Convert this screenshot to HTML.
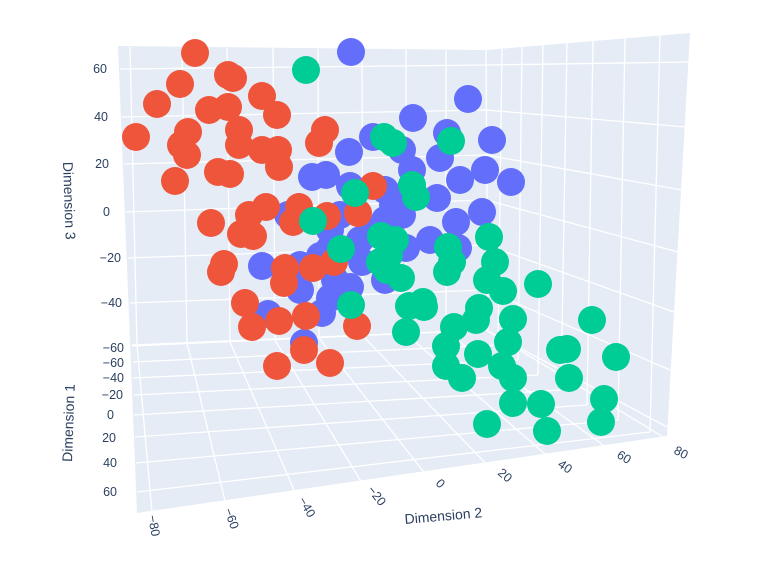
<!DOCTYPE html><html><head><meta charset="utf-8"><style>body{margin:0;background:#fff}svg text{font-family:"Liberation Sans",sans-serif;fill:#2a3f5f;font-size:12.5px}svg text.t{font-size:14px}</style></head><body>
<svg width="767" height="570" xmlns="http://www.w3.org/2000/svg">
<polygon points="118,46 486,50 690,33 667,436 137,513" fill="#E5ECF6"/>
<g stroke="#fff" stroke-width="1.3" fill="none">
<polyline points="120,69 486,65 690,62"/><polyline points="122,117 486,110 686,127"/><polyline points="124,164 486,155 682,190"/><polyline points="126,212 486,200 678,252"/><polyline points="128,258 486,245 674,312"/><polyline points="130,303 486,290 670,370"/><polyline points="132,345 486,330 667,427"/>
<line x1="130" y1="47" x2="137" y2="345"/><line x1="182" y1="47" x2="187" y2="343"/><line x1="227" y1="48" x2="230" y2="342"/><line x1="273" y1="48" x2="275" y2="340"/><line x1="318" y1="49" x2="319" y2="338"/><line x1="362" y1="49" x2="363" y2="336"/><line x1="406" y1="49" x2="406" y2="334"/><line x1="446" y1="50" x2="446" y2="332"/><line x1="486" y1="50" x2="488" y2="330"/>
<line x1="502" y1="49" x2="498" y2="345"/><line x1="522" y1="47" x2="518" y2="360"/><line x1="543" y1="45" x2="538" y2="375"/><line x1="567" y1="43" x2="561" y2="390"/><line x1="593" y1="41" x2="587" y2="405"/><line x1="625" y1="38" x2="618" y2="420"/><line x1="660" y1="35" x2="650" y2="432"/>
<line x1="132" y1="346" x2="486" y2="330"/><line x1="133" y1="362" x2="498" y2="345"/><line x1="133" y1="378" x2="518" y2="360"/><line x1="134" y1="395" x2="538" y2="375"/><line x1="134" y1="415" x2="561" y2="390"/><line x1="135" y1="437" x2="587" y2="405"/><line x1="136" y1="463" x2="618" y2="420"/><line x1="137" y1="492" x2="650" y2="432"/>
<line x1="137" y1="345" x2="152" y2="512"/><line x1="187" y1="343" x2="226" y2="505"/><line x1="230" y1="342" x2="297" y2="497"/><line x1="275" y1="340" x2="365" y2="488"/><line x1="319" y1="338" x2="430" y2="480"/><line x1="363" y1="336" x2="492" y2="470"/><line x1="406" y1="334" x2="552" y2="460"/><line x1="446" y1="332" x2="610" y2="450"/><line x1="486" y1="330" x2="665" y2="438"/>
</g>
<g fill="#636EFA">
<circle cx="351" cy="52" r="14"/><circle cx="468" cy="99" r="14"/><circle cx="413" cy="118" r="14"/><circle cx="447" cy="133" r="14"/><circle cx="492" cy="140" r="14"/><circle cx="373" cy="137" r="14"/><circle cx="349" cy="152" r="14"/><circle cx="402" cy="150" r="14"/><circle cx="440" cy="158" r="14"/><circle cx="412" cy="170" r="14"/><circle cx="460" cy="180" r="14"/><circle cx="485" cy="170" r="14"/><circle cx="511" cy="182" r="14"/><circle cx="312" cy="177" r="14"/><circle cx="326" cy="175" r="14"/><circle cx="350" cy="186" r="14"/><circle cx="385" cy="190" r="14"/><circle cx="437" cy="198" r="14"/><circle cx="482" cy="212" r="14"/><circle cx="456" cy="222" r="14"/><circle cx="393" cy="205" r="14"/><circle cx="402" cy="215" r="14"/><circle cx="288" cy="215" r="14"/><circle cx="340" cy="215" r="14"/><circle cx="330" cy="230" r="14"/><circle cx="330" cy="248" r="14"/><circle cx="372" cy="232" r="14"/><circle cx="406" cy="248" r="14"/><circle cx="458" cy="248" r="14"/><circle cx="262" cy="266" r="14"/><circle cx="300" cy="265" r="14"/><circle cx="362" cy="262" r="14"/><circle cx="335" cy="280" r="14"/><circle cx="385" cy="280" r="14"/><circle cx="300" cy="290" r="14"/><circle cx="330" cy="298" r="14"/><circle cx="322" cy="313" r="14"/><circle cx="268" cy="314" r="14"/><circle cx="350" cy="287" r="14"/><circle cx="304" cy="343" r="14"/><circle cx="320" cy="256" r="14"/><circle cx="360" cy="240" r="14"/><circle cx="430" cy="240" r="14"/><circle cx="410" cy="190" r="14"/><circle cx="385" cy="220" r="14"/>
</g>
<g fill="#EF553B">
<circle cx="195" cy="53" r="14"/><circle cx="157" cy="104" r="14"/><circle cx="180" cy="84" r="14"/><circle cx="228" cy="75" r="14"/><circle cx="233" cy="78" r="14"/><circle cx="262" cy="96" r="14"/><circle cx="277" cy="115" r="14"/><circle cx="209" cy="110" r="14"/><circle cx="228" cy="107" r="14"/><circle cx="136" cy="137" r="14"/><circle cx="188" cy="132" r="14"/><circle cx="239" cy="130" r="14"/><circle cx="181" cy="145" r="14"/><circle cx="187" cy="155" r="14"/><circle cx="239" cy="145" r="14"/><circle cx="262" cy="150" r="14"/><circle cx="278" cy="150" r="14"/><circle cx="279" cy="167" r="14"/><circle cx="325" cy="130" r="14"/><circle cx="319" cy="143" r="14"/><circle cx="218" cy="172" r="14"/><circle cx="230" cy="174" r="14"/><circle cx="175" cy="181" r="14"/><circle cx="211" cy="223" r="14"/><circle cx="249" cy="215" r="14"/><circle cx="266" cy="207" r="14"/><circle cx="241" cy="234" r="14"/><circle cx="253" cy="236" r="14"/><circle cx="299" cy="207" r="14"/><circle cx="293" cy="222" r="14"/><circle cx="327" cy="216" r="14"/><circle cx="358" cy="213" r="14"/><circle cx="373" cy="186" r="14"/><circle cx="221" cy="272" r="14"/><circle cx="224" cy="264" r="14"/><circle cx="285" cy="268" r="14"/><circle cx="313" cy="268" r="14"/><circle cx="334" cy="262" r="14"/><circle cx="284" cy="283" r="14"/><circle cx="245" cy="303" r="14"/><circle cx="252" cy="327" r="14"/><circle cx="279" cy="321" r="14"/><circle cx="306" cy="316" r="14"/><circle cx="357" cy="326" r="14"/><circle cx="304" cy="350" r="14"/><circle cx="277" cy="366" r="14"/><circle cx="330" cy="363" r="14"/>
</g>
<g fill="#00CC96">
<circle cx="306" cy="70" r="14"/><circle cx="384" cy="137" r="14"/><circle cx="393" cy="143" r="14"/><circle cx="451" cy="141" r="14"/><circle cx="412" cy="185" r="14"/><circle cx="416" cy="197" r="14"/><circle cx="355" cy="193" r="14"/><circle cx="313" cy="221" r="14"/><circle cx="381" cy="236" r="14"/><circle cx="341" cy="249" r="14"/><circle cx="448" cy="247" r="14"/><circle cx="452" cy="262" r="14"/><circle cx="447" cy="272" r="14"/><circle cx="489" cy="237" r="14"/><circle cx="495" cy="262" r="14"/><circle cx="487" cy="280" r="14"/><circle cx="503" cy="291" r="14"/><circle cx="380" cy="262" r="14"/><circle cx="387" cy="270" r="14"/><circle cx="401" cy="278" r="14"/><circle cx="538" cy="284" r="14"/><circle cx="351" cy="305" r="14"/><circle cx="409" cy="306" r="14"/><circle cx="423" cy="302" r="14"/><circle cx="424" cy="307" r="14"/><circle cx="479" cy="308" r="14"/><circle cx="513" cy="319" r="14"/><circle cx="476" cy="320" r="14"/><circle cx="454" cy="327" r="14"/><circle cx="406" cy="332" r="14"/><circle cx="592" cy="320" r="14"/><circle cx="508" cy="342" r="14"/><circle cx="446" cy="346" r="14"/><circle cx="478" cy="354" r="14"/><circle cx="446" cy="366" r="14"/><circle cx="502" cy="366" r="14"/><circle cx="560" cy="350" r="14"/><circle cx="567" cy="349" r="14"/><circle cx="616" cy="357" r="14"/><circle cx="462" cy="378" r="14"/><circle cx="513" cy="378" r="14"/><circle cx="569" cy="378" r="14"/><circle cx="513" cy="403" r="14"/><circle cx="541" cy="404" r="14"/><circle cx="604" cy="399" r="14"/><circle cx="487" cy="424" r="14"/><circle cx="547" cy="431" r="14"/><circle cx="601" cy="422" r="14"/><circle cx="395" cy="240" r="14"/><circle cx="389" cy="255" r="14"/>
</g>
<g text-anchor="end">
<text x="107" y="73">60</text><text x="108" y="121">40</text><text x="109" y="168">20</text><text x="110" y="216">0</text><text x="121" y="262">−20</text><text x="122" y="307">−40</text>
<text x="124" y="352">−60</text><text x="124" y="367">−60</text><text x="124" y="382">−40</text><text x="123" y="399">−20</text><text x="114" y="419">0</text><text x="116" y="442">20</text><text x="117" y="467">40</text><text x="117" y="496">60</text>
</g>
<text class="t" transform="translate(63,162) rotate(88)">Dimension 3</text>
<text class="t" transform="translate(72,462) rotate(-88)">Dimension 1</text>
<text class="t" transform="translate(405,524) rotate(-5)">Dimension 2</text>
<g>
<text transform="translate(148,516) rotate(80)">−80</text><text transform="translate(224,510) rotate(70)">−60</text><text transform="translate(298,500) rotate(60)">−40</text><text transform="translate(367,490) rotate(52)">−20</text><text transform="translate(435,484) rotate(45)">0</text><text transform="translate(497,474) rotate(40)">20</text><text transform="translate(557,466) rotate(35)">40</text><text transform="translate(616,457) rotate(32)">60</text><text transform="translate(673,453) rotate(28)">80</text>
</g>
</svg></body></html>
